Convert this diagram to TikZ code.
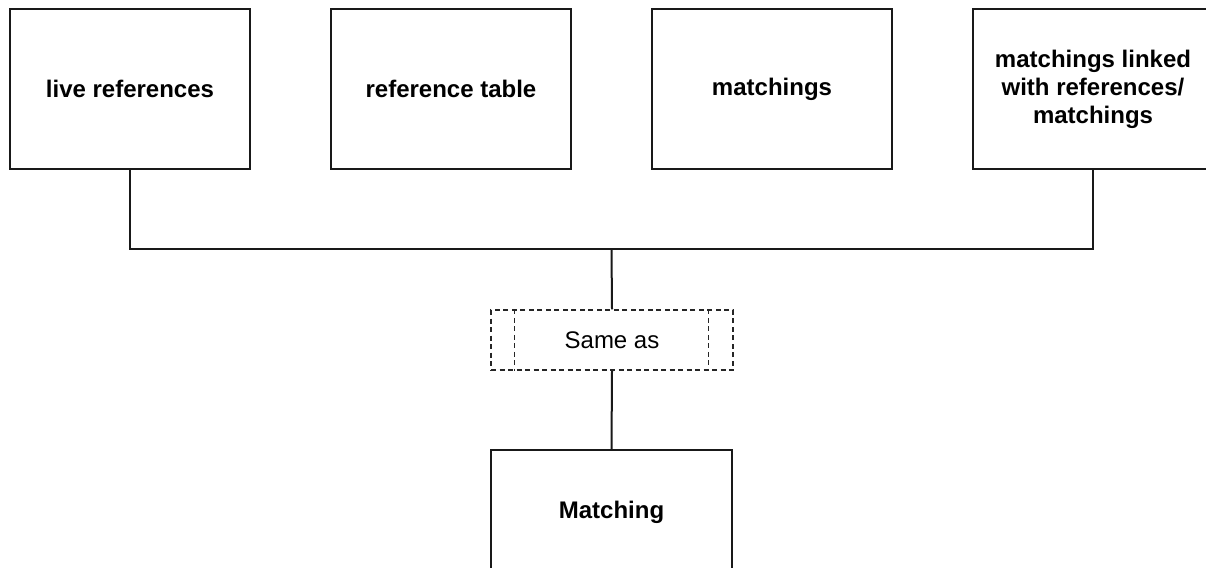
\documentclass[tikz,border=0pt]{standalone}
\usepackage{fontspec}
\setmainfont{Liberation Sans}
\begin{document}
\begin{tikzpicture}[x=1pt,y=-1pt,
  box/.style={draw=black!90, line width=2pt, minimum width=240pt, minimum height=160pt,
    inner sep=0pt, align=center, font=\fontsize{24}{28}\selectfont\bfseries, text=black},
  sameas/.style={draw=black!85, dashed, dash pattern=on 5pt off 3.5pt, line width=1.4pt,
    minimum width=242pt, minimum height=60pt, inner sep=0pt, font=\fontsize{24}{28}\selectfont},
  conn/.style={draw=black!90, line width=2pt}]
\useasboundingbox (0,0) rectangle (1206,567);
\node[box] (b1) at (130,89) {live references};
\node[box] (b2) at (451,89) {reference table};
\node[box] (b3) at (772,89) {matchings};
\node[box] (b4) at (1093,89) {matchings linked\\with references/\\matchings};
\coordinate (jn) at (611.5,249);
\node[sameas] (same) at (612,340) {Same as};
\draw[draw=black!85, dashed, dash pattern=on 5pt off 3.5pt, line width=1.4pt]
  ([xshift=24pt]same.north west) -- ([xshift=24pt]same.south west)
  ([xshift=-25pt]same.north east) -- ([xshift=-25pt]same.south east);
\node[box, minimum width=241pt, minimum height=124pt] (m) at (611.5,512) {Matching};
\draw[conn] (b1.south) |- (jn) -| (b4.south);
\draw[conn] (jn) -- (same.north);
\draw[conn] (same.south) -- (m.north);
\end{tikzpicture}
\end{document}
